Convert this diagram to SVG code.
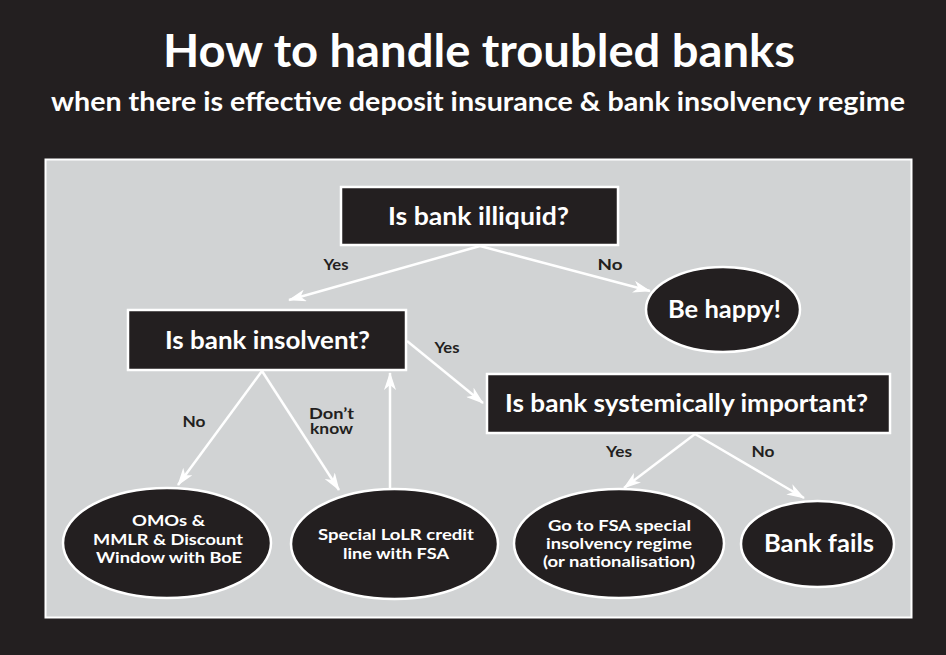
<svg xmlns="http://www.w3.org/2000/svg" width="946" height="655" viewBox="0 0 946 655">
<style>
.t{font-family:Lato,"Open Sans","Liberation Sans",sans-serif;font-weight:bold;fill:#fff;text-anchor:middle}
.lbl{font-family:Lato,"Open Sans","Liberation Sans",sans-serif;font-weight:bold;fill:#231f20;font-size:15px}
.box{fill:#231f20;stroke:#fff;stroke-width:2.5}
.conn{stroke:#fff;stroke-width:2.5;fill:none;marker-end:url(#ah)}
</style>
<defs>
<marker id="ah" viewBox="0 0 18 12" refX="17" refY="6" markerUnits="userSpaceOnUse" markerWidth="18" markerHeight="12" orient="auto">
<path d="M0,0 L18,6 L0,12 L5,6 Z" fill="#fff"/>
</marker>
</defs>
<rect x="0" y="0" width="946" height="655" fill="#231f20"/>
<text class="t" x="479" y="67" font-size="46" textLength="632" lengthAdjust="spacingAndGlyphs">How to handle troubled banks</text>
<text class="t" x="478" y="111" font-size="26" textLength="854" lengthAdjust="spacingAndGlyphs">when there is effective deposit insurance &amp; bank insolvency regime</text>
<rect x="45.5" y="159.5" width="866" height="458" fill="#d1d3d4" stroke="#fff" stroke-width="2"/>
<g id="connectors">
<line class="conn" x1="480" y1="246" x2="289" y2="300"/>
<line class="conn" x1="480" y1="246" x2="650" y2="291"/>
<line class="conn" x1="407" y1="341" x2="483" y2="403"/>
<line class="conn" x1="262" y1="371" x2="178" y2="485"/>
<line class="conn" x1="262" y1="371" x2="339" y2="490"/>
<line class="conn" x1="390" y1="489" x2="390" y2="373"/>
<line class="conn" x1="695" y1="434" x2="624" y2="488"/>
<line class="conn" x1="695" y1="434" x2="804" y2="498"/>
<text class="lbl" x="336" y="270" text-anchor="middle" textLength="25" lengthAdjust="spacingAndGlyphs">Yes</text>
<text class="lbl" x="610" y="270" text-anchor="middle" textLength="25" lengthAdjust="spacingAndGlyphs">No</text>
<text class="lbl" x="447" y="353" text-anchor="middle" textLength="25" lengthAdjust="spacingAndGlyphs">Yes</text>
<text class="lbl" x="194" y="427" text-anchor="middle" textLength="23" lengthAdjust="spacingAndGlyphs">No</text>
<text class="lbl" font-size="14"><tspan x="309" y="419" textLength="45" lengthAdjust="spacingAndGlyphs">Don’t</tspan><tspan x="310" y="434" textLength="43" lengthAdjust="spacingAndGlyphs">know</tspan></text>
<text class="lbl" x="619" y="457" text-anchor="middle" textLength="26" lengthAdjust="spacingAndGlyphs">Yes</text>
<text class="lbl" x="763" y="457" text-anchor="middle" textLength="23" lengthAdjust="spacingAndGlyphs">No</text>
</g>
<g id="illiquid">
<rect class="box" x="341" y="187" width="277" height="58"/>
<text class="t" x="478.5" y="225" font-size="25" textLength="181" lengthAdjust="spacingAndGlyphs">Is bank illiquid?</text>
</g>
<g id="happy">
<ellipse class="box" cx="723" cy="309.5" rx="77" ry="42.5"/>
<text class="t" x="724.5" y="318" font-size="25" textLength="113" lengthAdjust="spacingAndGlyphs">Be happy!</text>
</g>
<g id="insolvent">
<rect class="box" x="128" y="310" width="278" height="60"/>
<text class="t" x="267.5" y="349" font-size="25" textLength="205" lengthAdjust="spacingAndGlyphs">Is bank insolvent?</text>
</g>
<g id="systemic">
<rect class="box" x="487" y="374" width="403" height="59"/>
<text class="t" x="686.5" y="412" font-size="25" textLength="363" lengthAdjust="spacingAndGlyphs">Is bank systemically important?</text>
</g>
<g id="omos">
<ellipse class="box" cx="167" cy="543" rx="104" ry="55"/>
<text class="t" x="168.5" y="526" font-size="16" textLength="73" lengthAdjust="spacingAndGlyphs">OMOs &amp;</text>
<text class="t" x="168" y="545" font-size="16" textLength="150" lengthAdjust="spacingAndGlyphs">MMLR &amp; Discount</text>
<text class="t" x="169" y="563" font-size="16" textLength="146" lengthAdjust="spacingAndGlyphs">Window with BoE</text>
</g>
<g id="lolr">
<ellipse class="box" cx="394.5" cy="544" rx="103.5" ry="55"/>
<text class="t" x="396" y="540" font-size="16" textLength="156" lengthAdjust="spacingAndGlyphs">Special LoLR credit</text>
<text class="t" x="396" y="559" font-size="16" textLength="106" lengthAdjust="spacingAndGlyphs">line with FSA</text>
</g>
<g id="fsa">
<ellipse class="box" cx="619" cy="543.5" rx="105" ry="54.5"/>
<text class="t" x="619.5" y="531" font-size="16" textLength="143" lengthAdjust="spacingAndGlyphs">Go to FSA special</text>
<text class="t" x="619" y="549" font-size="16" textLength="146" lengthAdjust="spacingAndGlyphs">insolvency regime</text>
<text class="t" x="619" y="567" font-size="16" textLength="152" lengthAdjust="spacingAndGlyphs">(or nationalisation)</text>
</g>
<g id="fails">
<ellipse class="box" cx="817.5" cy="544" rx="76.5" ry="43"/>
<text class="t" x="819" y="552" font-size="25" textLength="110" lengthAdjust="spacingAndGlyphs">Bank fails</text>
</g>
</svg>
